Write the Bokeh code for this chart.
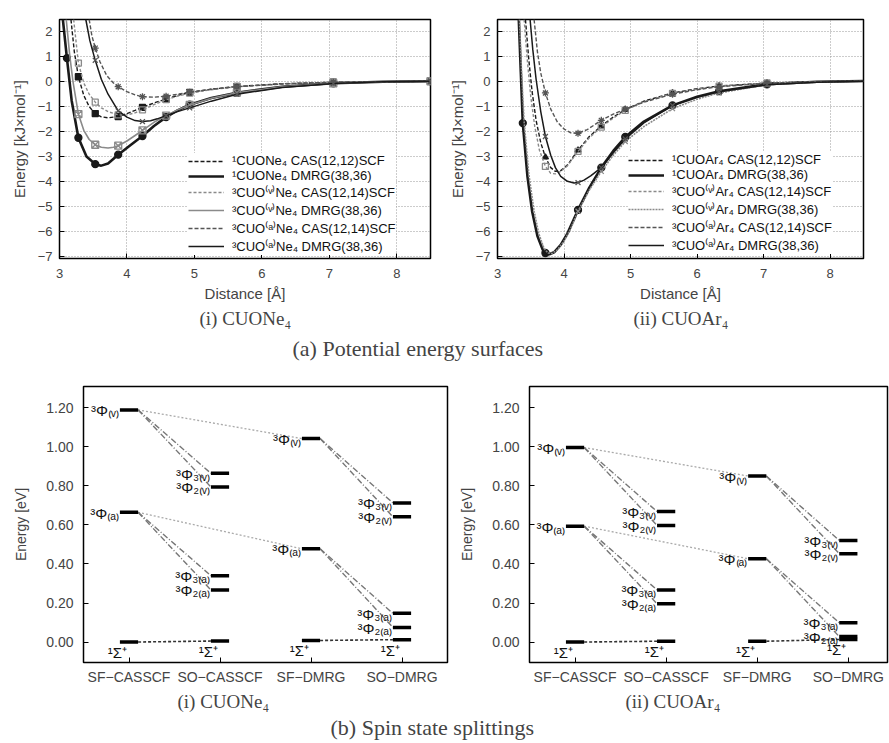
import numpy as np
from bokeh.plotting import figure
from bokeh.models import (Range1d, FixedTicker, Title, Legend, LegendItem,
                          PrintfTickFormatter)
from bokeh.layouts import column, row
from bokeh.embed import file_html
from bokeh.resources import INLINE
from bokeh.core.properties import value

SANS = "Liberation Sans"
SERIF = "Liberation Serif"

# ---------------- (a) potential energy surfaces : data ----------------
X_TICKS = [3, 4, 5, 6, 7, 8]
Y_TICKS = [-7, -6, -5, -4, -3, -2, -1, 0, 1, 2]

D_NE = [3.11, 3.28, 3.53, 3.87, 4.23, 4.58, 4.93, 5.63, 7.06, 8.50]
NE_LABELS = ["¹CUONe₄ CAS(12,12)SCF", "¹CUONe₄ DMRG(38,36)",
             "³CUO⁽ᵛ⁾Ne₄ CAS(12,14)SCF", "³CUO⁽ᵛ⁾Ne₄ DMRG(38,36)",
             "³CUO⁽ᵃ⁾Ne₄ CAS(12,14)SCF", "³CUO⁽ᵃ⁾Ne₄ DMRG(38,36)"]

NE_S_CAS_X = [3.17, 3.22, 3.28, 3.36, 3.44, 3.53, 3.62, 3.72, 3.87, 4.00, 4.12, 4.23, 4.40, 4.58, 4.75, 4.93, 5.25, 5.63, 6.30, 7.06, 7.80, 8.50]
NE_S_CAS_Y = [2.5, 1.2, 0.2, -0.55, -1.0, -1.28, -1.41, -1.45, -1.4, -1.28, -1.15, -1.03, -0.85, -0.7, -0.55, -0.43, -0.3, -0.19, -0.08, -0.02, 0.0, 0.02]
NE_S_DMRG_X = [3.05, 3.11, 3.18, 3.28, 3.40, 3.53, 3.62, 3.72, 3.87, 4.05, 4.23, 4.40, 4.58, 4.75, 4.93, 5.25, 5.63, 6.30, 7.06, 7.80, 8.50]
NE_S_DMRG_Y = [2.5, 0.95, -0.75, -2.25, -3.0, -3.31, -3.37, -3.28, -2.93, -2.55, -2.18, -1.78, -1.42, -1.15, -0.92, -0.65, -0.44, -0.2, -0.06, 0.0, 0.02]
NE_V_CAS_X = [3.21, 3.28, 3.36, 3.44, 3.53, 3.62, 3.72, 3.87, 4.00, 4.12, 4.23, 4.40, 4.58, 4.75, 4.93, 5.25, 5.63, 6.30, 7.06, 7.80, 8.50]
NE_V_CAS_Y = [2.5, 0.75, -0.05, -0.5, -0.82, -1.05, -1.2, -1.33, -1.33, -1.25, -1.13, -0.92, -0.72, -0.58, -0.46, -0.32, -0.2, -0.09, -0.02, 0.0, 0.02]
NE_V_DMRG_X = [3.10, 3.15, 3.20, 3.28, 3.36, 3.44, 3.53, 3.62, 3.72, 3.80, 3.87, 4.00, 4.12, 4.23, 4.40, 4.58, 4.75, 4.93, 5.25, 5.63, 6.30, 7.06, 7.80, 8.50]
NE_V_DMRG_Y = [2.5, 1.1, 0.0, -1.3, -1.95, -2.32, -2.53, -2.63, -2.66, -2.63, -2.57, -2.38, -2.16, -1.95, -1.63, -1.36, -1.13, -0.93, -0.66, -0.44, -0.2, -0.06, 0.0, 0.02]
NE_A_CAS_X = [3.44, 3.48, 3.53, 3.60, 3.70, 3.80, 3.87, 4.00, 4.12, 4.23, 4.40, 4.58, 4.75, 4.93, 5.25, 5.63, 6.30, 7.06, 7.80, 8.50]
NE_A_CAS_Y = [2.5, 1.85, 1.35, 0.8, 0.25, -0.05, -0.2, -0.4, -0.53, -0.6, -0.62, -0.58, -0.5, -0.42, -0.3, -0.2, -0.09, -0.02, 0.0, 0.02]
NE_A_DMRG_X = [3.39, 3.45, 3.53, 3.62, 3.72, 3.87, 4.00, 4.12, 4.23, 4.35, 4.45, 4.58, 4.75, 4.93, 5.25, 5.63, 6.30, 7.06, 7.80, 8.50]
NE_A_DMRG_Y = [2.5, 1.65, 0.86, 0.1, -0.5, -1.17, -1.42, -1.56, -1.6, -1.57, -1.49, -1.36, -1.2, -1.05, -0.78, -0.5, -0.23, -0.07, 0.0, 0.02]

D_AR = [3.38, 3.72, 4.21, 4.56, 4.92, 5.63, 6.33, 7.05]
AR_LABELS = ["¹CUOAr₄ CAS(12,12)SCF", "¹CUOAr₄ DMRG(38,36)",
             "³CUO⁽ᵛ⁾Ar₄ CAS(12,14)SCF", "³CUO⁽ᵛ⁾Ar₄ DMRG(38,36)",
             "³CUO⁽ᵃ⁾Ar₄ CAS(12,14)SCF", "³CUO⁽ᵃ⁾Ar₄ DMRG(38,36)"]

AR_S_CAS_X = [3.42, 3.47, 3.52, 3.58, 3.65, 3.72, 3.80, 3.87, 3.95, 4.05, 4.21, 4.38, 4.56, 4.74, 4.92, 5.20, 5.63, 6.00, 6.33, 7.05, 7.80, 8.50]
AR_S_CAS_Y = [2.5, 0.9, -0.4, -1.55, -2.45, -3.03, -3.45, -3.6, -3.57, -3.35, -2.75, -2.2, -1.78, -1.42, -1.12, -0.78, -0.45, -0.28, -0.17, -0.05, 0.0, 0.02]
AR_S_DMRG_X = [3.32, 3.35, 3.38, 3.45, 3.52, 3.60, 3.68, 3.72, 3.78, 3.85, 3.95, 4.05, 4.21, 4.38, 4.56, 4.74, 4.92, 5.20, 5.63, 6.00, 6.33, 7.05, 7.80, 8.50]
AR_S_DMRG_Y = [2.5, 0.4, -1.66, -3.8, -5.2, -6.2, -6.75, -6.88, -6.93, -6.85, -6.55, -6.1, -5.15, -4.25, -3.45, -2.78, -2.22, -1.6, -0.95, -0.6, -0.38, -0.1, 0.0, 0.03]
AR_V_CAS_X = [3.40, 3.45, 3.50, 3.56, 3.63, 3.72, 3.80, 3.87, 3.95, 4.05, 4.21, 4.38, 4.56, 4.74, 4.92, 5.20, 5.63, 6.00, 6.33, 7.05, 7.80, 8.50]
AR_V_CAS_Y = [2.5, 0.8, -0.6, -1.8, -2.75, -3.4, -3.68, -3.7, -3.6, -3.38, -2.8, -2.25, -1.82, -1.46, -1.15, -0.8, -0.47, -0.3, -0.18, -0.05, 0.0, 0.02]
AR_V_DMRG_X = [3.33, 3.36, 3.40, 3.47, 3.55, 3.62, 3.70, 3.76, 3.82, 3.90, 4.00, 4.10, 4.21, 4.38, 4.56, 4.74, 4.92, 5.20, 5.63, 6.00, 6.33, 7.05, 7.80, 8.50]
AR_V_DMRG_Y = [2.5, 0.5, -1.6, -3.7, -5.2, -6.1, -6.7, -6.88, -6.9, -6.75, -6.4, -5.9, -5.2, -4.35, -3.6, -2.95, -2.4, -1.8, -1.08, -0.7, -0.45, -0.12, -0.02, 0.02]
AR_A_CAS_X = [3.55, 3.60, 3.65, 3.72, 3.80, 3.90, 4.00, 4.10, 4.21, 4.35, 4.56, 4.74, 4.92, 5.20, 5.63, 6.00, 6.33, 7.05, 7.80, 8.50]
AR_A_CAS_Y = [2.5, 1.2, 0.35, -0.45, -1.1, -1.62, -1.9, -2.05, -2.07, -1.92, -1.55, -1.3, -1.1, -0.82, -0.5, -0.32, -0.2, -0.06, 0.0, 0.02]
AR_A_DMRG_X = [3.49, 3.53, 3.58, 3.65, 3.72, 3.80, 3.87, 3.95, 4.05, 4.15, 4.21, 4.30, 4.40, 4.56, 4.74, 4.92, 5.20, 5.63, 6.00, 6.33, 7.05, 7.80, 8.50]
AR_A_DMRG_Y = [2.5, 1.3, 0.1, -1.2, -2.2, -2.95, -3.45, -3.8, -4.0, -4.07, -4.05, -3.95, -3.78, -3.45, -2.85, -2.3, -1.65, -0.95, -0.62, -0.4, -0.12, -0.02, 0.02]

# ---------------- (b) spin state splittings : data ----------------
METHODS = ["SF−CASSCF", "SO−CASSCF", "SF−DMRG", "SO−DMRG"]
E_TICKS = [0.0, 0.2, 0.4, 0.6, 0.8, 1.0, 1.2]
SF_STATES = ["¹Σ⁺", "³Φ₍ₐ₎", "³Φ₍ᵥ₎"]
SO_STATES = ["¹Σ⁺", "³Φ₂₍ₐ₎", "³Φ₃₍ₐ₎", "³Φ₂₍ᵥ₎", "³Φ₃₍ᵥ₎"]

NE_SF_CASSCF = [0.000, 0.665, 1.190]
NE_SO_CASSCF = [0.005, 0.267, 0.340, 0.795, 0.865]
NE_SF_DMRG = [0.008, 0.478, 1.043]
NE_SO_DMRG = [0.012, 0.075, 0.147, 0.642, 0.713]

AR_SF_CASSCF = [0.000, 0.594, 0.997]
AR_SO_CASSCF = [0.004, 0.196, 0.267, 0.598, 0.669]
AR_SF_DMRG = [0.004, 0.427, 0.851]
AR_SO_DMRG = [0.013, 0.028, 0.099, 0.453, 0.521]

# ---------------- helpers ----------------
MINUS = "\u2212"


def pes_panel(width, height, mb, curves, labels, styles, dists, caption, cap_off, leg_loc):
    p = figure(width=width, height=height, x_range=Range1d(3, 8.5), y_range=Range1d(-7.1, 2.5),
               output_backend="svg", toolbar_location=None,
               min_border_left=mb[0], min_border_right=mb[1], min_border_top=mb[2],
               min_border_bottom=mb[3])
    p.xaxis.ticker = FixedTicker(ticks=X_TICKS)
    p.yaxis.ticker = FixedTicker(ticks=Y_TICKS)
    p.yaxis.major_label_overrides = {t: str(t).replace("-", MINUS) for t in Y_TICKS}
    for ax in (p.xaxis[0], p.yaxis[0]):
        ax.major_tick_in = 5
        ax.major_tick_out = 0
        ax.minor_tick_line_color = None
        ax.axis_line_color = None
        ax.major_label_text_font = SANS
        ax.major_label_text_font_size = "13px"
        ax.axis_label_text_font = SANS
        ax.axis_label_text_font_size = "15px"
        ax.axis_label_text_font_style = "normal"
    p.xaxis.major_label_standoff = 10
    p.yaxis.major_label_standoff = 7
    p.xaxis.axis_label = "Distance [Å]"
    p.xaxis.axis_label_standoff = 4
    p.yaxis.axis_label = "Energy [kJ×mol⁻¹]"
    p.yaxis.axis_label_standoff = 7
    p.xgrid.ticker = FixedTicker(ticks=X_TICKS)
    p.ygrid.ticker = FixedTicker(ticks=Y_TICKS)
    p.grid.grid_line_color = "#999999"
    p.grid.grid_line_dash = "1 2"
    p.grid.grid_line_width = 1
    p.outline_line_color = "black"
    p.outline_line_width = 1.5

    items = []
    for (xs, ys), lab, st in zip(curves, labels, styles):
        r = p.line(xs, ys, line_color=st["color"], line_width=st["width"], line_dash=st["dash"])
        items.append(LegendItem(label=lab, renderers=[r]))
        mx = [x for x in xs if any(abs(x - d) < 1e-6 for d in dists)]
        my = [y for x, y in zip(xs, ys) if any(abs(x - d) < 1e-6 for d in dists)]
        p.scatter(mx, my, marker=st["marker"], size=st["msize"], line_color=st["mcolor"],
                  fill_color=st["mfill"], line_width=1.3)
    leg = Legend(items=items, location=leg_loc, label_text_font=SANS, label_text_font_size="13px",
                 label_height=10, glyph_height=10, glyph_width=36, label_standoff=8, spacing=0,
                 label_text_line_height=0.8,
                 padding=2, margin=0, border_line_color=None, background_fill_color="white",
                 background_fill_alpha=1.0, label_text_color="#111111")
    p.add_layout(leg)
    t = Title(text=caption, text_font=SERIF, text_font_size="19px", text_font_style="normal",
              align="left", offset=cap_off, standoff=2)
    p.add_layout(t, "below")
    return p


def spin_panel(width, height, mb, x_end, sf_cas, so_cas, sf_dmrg, so_dmrg, caption, cap_off):
    HW = 0.1
    p = figure(width=width, height=height, x_range=Range1d(0.5, x_end),
               y_range=Range1d(-0.105, 1.31), output_backend="svg", toolbar_location=None,
               min_border_left=mb[0], min_border_right=mb[1], min_border_top=mb[2],
               min_border_bottom=mb[3])
    p.grid.visible = False
    p.outline_line_color = "black"
    p.outline_line_width = 1.5
    p.xaxis.ticker = FixedTicker(ticks=[1, 2, 3, 4])
    p.xaxis.major_label_overrides = {i + 1: m for i, m in enumerate(METHODS)}
    p.yaxis.ticker = FixedTicker(ticks=E_TICKS)
    p.yaxis.formatter = PrintfTickFormatter(format="%.2f")
    for ax in (p.xaxis[0], p.yaxis[0]):
        ax.major_tick_in = 5
        ax.major_tick_out = 0
        ax.minor_tick_line_color = None
        ax.axis_line_color = None
        ax.major_label_text_font = SANS
        ax.major_label_text_font_size = "14px"
        ax.axis_label_text_font = SANS
        ax.axis_label_text_font_size = "14px"
        ax.axis_label_text_font_style = "normal"
    p.xaxis.major_label_standoff = 6
    p.yaxis.major_label_standoff = 10
    p.yaxis.axis_label = "Energy [eV]"
    p.yaxis.axis_label_standoff = 14

    levels = [sf_cas, so_cas, sf_dmrg, so_dmrg]
    pos = [1, 2, 3, 4]

    # dotted connections SF-CASSCF -> SF-DMRG (triplets)
    p.segment(x0=[pos[0] + HW] * 2, y0=sf_cas[1:], x1=[pos[2] - HW] * 2, y1=sf_dmrg[1:],
              line_color="#aaaaaa", line_width=1.3, line_dash="2 2")
    # SF -> SO connections
    for sf, so, xs, xo in ((sf_cas, so_cas, pos[0], pos[1]), (sf_dmrg, so_dmrg, pos[2], pos[3])):
        p.segment(x0=[xs + HW], y0=[sf[0]], x1=[xo - HW], y1=[so[0]],
                  line_color="#333333", line_width=1.6, line_dash="3 2")
        y0 = [sf[1], sf[1], sf[2], sf[2]]
        y1 = [so[1], so[2], so[3], so[4]]
        p.segment(x0=[xs + HW] * 4, y0=y0, x1=[xo - HW] * 4, y1=y1,
                  line_color="#777777", line_width=1.4, line_dash="6 2 1 2")
    # level bars
    bx0, bx1, by = [], [], []
    for x, lv in zip(pos, levels):
        for v in lv:
            bx0.append(x - HW)
            bx1.append(x + HW)
            by.append(v)
    p.segment(x0=bx0, y0=by, x1=bx1, y1=by, line_color="black", line_width=3.5)

    # labels
    tk = dict(text_font=value(SANS), text_font_size="15px", text_color="#111111")
    for x, lv, names in ((pos[0], sf_cas, SF_STATES), (pos[1], so_cas, SO_STATES),
                         (pos[2], sf_dmrg, SF_STATES), (pos[3], so_dmrg, SO_STATES)):
        p.text(x=[x - HW] * (len(lv) - 1), y=lv[1:], text=names[1:], text_align="right",
               text_baseline="middle", x_offset=-1, y_offset=1, **tk)
        p.text(x=[x], y=[lv[0]], text=[names[0]], text_align="right", text_baseline="top",
               x_offset=-2, y_offset=2, **tk)

    t = Title(text=caption, text_font=SERIF, text_font_size="19px", text_font_style="normal",
              align="left", offset=cap_off, standoff=2)
    p.add_layout(t, "below")
    return p


def caption_fig(text, width, height, offset, size):
    p = figure(width=width, height=height, toolbar_location=None, output_backend="svg",
               x_axis_location=None, y_axis_location=None, min_border=0,
               outline_line_color=None)
    p.grid.visible = False
    p.title.text = text
    p.title.align = "left"
    p.title.offset = offset
    p.title.text_font = SERIF
    p.title.text_font_size = size
    p.title.text_font_style = "normal"
    p.title.standoff = 0
    return p


BLACK, GRAY, DGRAY = "#1a1a1a", "#8a8a8a", "#555555"
NE_STYLES = [
    dict(color=BLACK, width=1.4, dash="4 2", marker="square", msize=6, mcolor=BLACK, mfill=BLACK),
    dict(color=BLACK, width=2.6, dash="solid", marker="circle", msize=7, mcolor=BLACK, mfill=BLACK),
    dict(color=GRAY, width=1.4, dash="3 2", marker="square", msize=6, mcolor=GRAY, mfill=None),
    dict(color=GRAY, width=1.6, dash="solid", marker="square_x", msize=7, mcolor=GRAY, mfill=None),
    dict(color=DGRAY, width=1.4, dash="4 2", marker="asterisk", msize=7, mcolor=DGRAY, mfill=None),
    dict(color=BLACK, width=1.5, dash="solid", marker="x", msize=7, mcolor=DGRAY, mfill=None),
]
AR_STYLES = [
    dict(color=BLACK, width=1.4, dash="4 2", marker="triangle", msize=6, mcolor=BLACK, mfill=BLACK),
    dict(color=BLACK, width=2.6, dash="solid", marker="circle", msize=7, mcolor=BLACK, mfill=BLACK),
    dict(color=GRAY, width=1.4, dash="3 2", marker="square", msize=6, mcolor=GRAY, mfill=None),
    dict(color=GRAY, width=1.6, dash="2 1", marker="x", msize=7, mcolor=GRAY, mfill=None),
    dict(color=DGRAY, width=1.4, dash="4 2", marker="asterisk", msize=7, mcolor=DGRAY, mfill=None),
    dict(color=BLACK, width=1.5, dash="solid", marker="x", msize=7, mcolor=DGRAY, mfill=None),
]

ne_curves = [(NE_S_CAS_X, NE_S_CAS_Y), (NE_S_DMRG_X, NE_S_DMRG_Y), (NE_V_CAS_X, NE_V_CAS_Y),
             (NE_V_DMRG_X, NE_V_DMRG_Y), (NE_A_CAS_X, NE_A_CAS_Y), (NE_A_DMRG_X, NE_A_DMRG_Y)]
ar_curves = [(AR_S_CAS_X, AR_S_CAS_Y), (AR_S_DMRG_X, AR_S_DMRG_Y), (AR_V_CAS_X, AR_V_CAS_Y),
             (AR_V_DMRG_X, AR_V_DMRG_Y), (AR_A_CAS_X, AR_A_CAS_Y), (AR_A_DMRG_X, AR_A_DMRG_Y)]

tl = pes_panel(445, 333, (59, 15, 19, 74), ne_curves, NE_LABELS, NE_STYLES, D_NE,
               "(i) CUONe₄", 140, (129, 3))
tr = pes_panel(444, 333, (44, 26, 16, 75), ar_curves, AR_LABELS, AR_STYLES, D_AR,
               "(ii) CUOAr₄", 136, (131, 4))

cap_a = caption_fig("(a) Potential energy surfaces", 889, 32, 292, "22px")

bl = spin_panel(455, 347, (83, 8, 21, 43), 4.5, NE_SF_CASSCF, NE_SO_CASSCF, NE_SF_DMRG,
                NE_SO_DMRG, "(i) CUONe₄", 94)
br = spin_panel(434, 347, (74, 2, 17, 46), 4.43, AR_SF_CASSCF, AR_SO_CASSCF, AR_SF_DMRG,
                AR_SO_DMRG, "(ii) CUOAr₄", 96)

cap_b = caption_fig("(b) Spin state splittings", 889, 31, 330, "22px")

layout = column(row(tl, tr), cap_a, row(bl, br), cap_b)

with open("out.html", "w") as f:
    f.write(file_html(layout, INLINE))
